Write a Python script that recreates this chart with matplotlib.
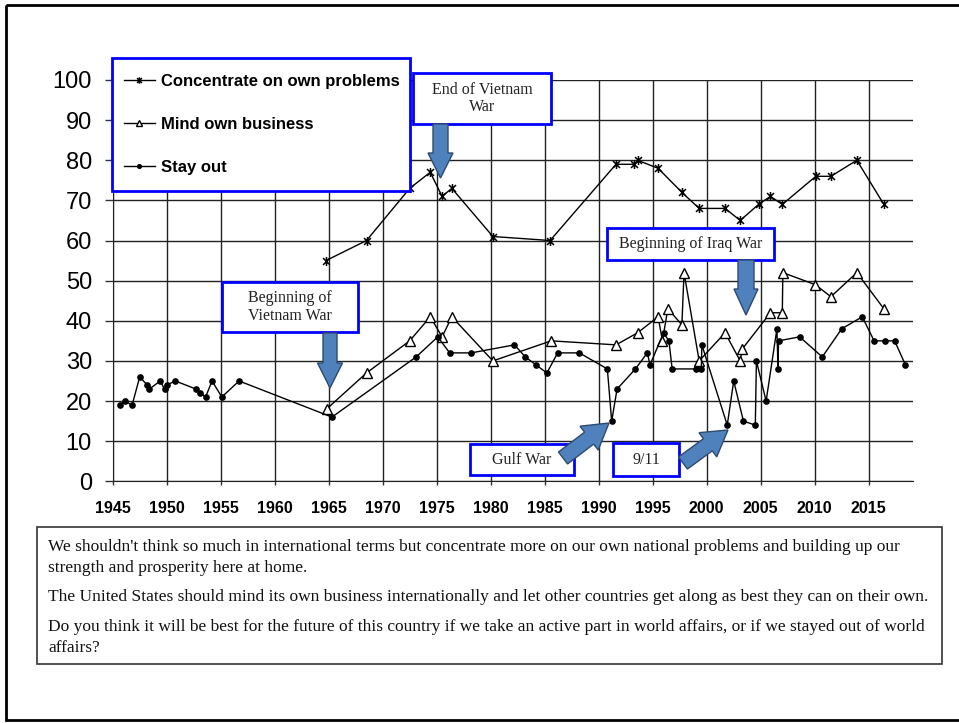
import matplotlib
matplotlib.use("Agg")
import matplotlib.pyplot as plt
import matplotlib.patches as mpatches
from matplotlib.path import Path

# ---- data ----
stay_years = [1945.7, 1946.1, 1946.8, 1947.5, 1948.2, 1948.4, 1949.4, 1949.8, 1950.0,
              1950.8, 1952.7, 1953.1, 1953.6, 1954.2, 1955.1, 1956.7, 1965.3, 1973.1,
              1975.1, 1976.2, 1978.2, 1982.2, 1983.2, 1984.2, 1985.2, 1986.2, 1988.2,
              1990.8, 1991.2, 1991.7, 1993.4, 1994.5, 1994.75, 1996.0, 1996.5, 1996.8,
              1999.0, 1999.5, 1999.55, 2001.9, 2002.5, 2003.4, 2004.5, 2004.6, 2005.5,
              2006.5, 2006.6, 2006.65, 2008.6, 2010.7, 2012.5, 2014.4, 2015.5, 2016.5,
              2017.4, 2018.4]
stay_vals = [19, 20, 19, 26, 24, 23, 25, 23, 24,
             25, 23, 22, 21, 25, 21, 25, 16, 31,
             36, 32, 32, 34, 31, 29, 27, 32, 32,
             28, 15, 23, 28, 32, 29, 37, 35, 28,
             28, 28, 34, 14, 25, 15, 14, 30, 20,
             38, 28, 35, 36, 31, 38, 41, 35, 35,
             35, 29]

mind_years = [1964.8, 1968.5, 1972.5, 1974.4, 1975.5, 1976.4, 1980.2, 1985.6, 1991.6,
              1993.6, 1995.5, 1995.9, 1996.4, 1997.7, 1997.9, 1999.3, 2001.7, 2003.1,
              2003.3, 2005.9, 2007.0, 2007.05, 2010.05, 2011.5, 2013.9, 2016.4]
mind_vals = [18, 27, 35, 41, 36, 41, 30, 35, 34,
             37, 41, 35, 43, 39, 52, 30, 37, 30,
             33, 42, 42, 52, 49, 46, 52, 43]

conc_years = [1964.75, 1968.5, 1972.5, 1974.4, 1975.5, 1976.4, 1980.2, 1985.5, 1991.6,
              1993.3, 1993.6, 1995.5, 1997.7, 1999.3, 2001.7, 2003.1, 2004.8, 2005.9,
              2007.0, 2010.1, 2011.5, 2013.9, 2016.4]
conc_vals = [55, 60, 73, 77, 71, 73, 61, 60, 79,
             79, 80, 78, 72, 68, 68, 65, 69, 71,
             69, 76, 76, 80, 69]

series_labels = ["Concentrate on own problems", "Mind own business", "Stay out"]
x_ticks = list(range(1945, 2020, 5))
y_ticks = list(range(0, 101, 10))

question_texts = [
    "We shouldn't think so much in international terms but concentrate more on our own national problems and building up our\nstrength and prosperity here at home.",
    "The United States should mind its own business internationally and let other countries get along as best they can on their own.",
    "Do you think it will be best for the future of this country if we take an active part in world affairs, or if we stayed out of world\naffairs?",
]

W, H = 959, 723
SANS = "Liberation Sans"
SERIF = "Liberation Serif"
ARROW_FACE = "#4F81BD"
ARROW_EDGE = "#2F4A6E"

# excel-like star marker: an x with a vertical bar
star = Path([(-1, -1), (1, 1), (-1, 1), (1, -1), (0, -1.3), (0, 1.3)],
            [Path.MOVETO, Path.LINETO, Path.MOVETO, Path.LINETO, Path.MOVETO, Path.LINETO])

fig = plt.figure(figsize=(W / 100, H / 100), dpi=100)
x0, x1 = 112.7, 913.0
y0, y1 = 481.3, 80.0
ax = fig.add_axes([x0 / W, 1 - y0 / H, (x1 - x0) / W, (y0 - y1) / H])

l_conc, = ax.plot(conc_years, conc_vals, color="black", lw=1, marker=star, ms=6.5,
                  mew=1.1, clip_on=False, label=series_labels[0])
l_mind, = ax.plot(mind_years, mind_vals, color="black", lw=1, marker="^", ms=7,
                  mfc="white", mec="black", mew=1, clip_on=False, label=series_labels[1])
l_stay, = ax.plot(stay_years, stay_vals, color="black", lw=1, marker="o", ms=3.8,
                  clip_on=False, label=series_labels[2])

ax.set_xlim(1945, 2019.1)
ax.set_ylim(0, 100)
ax.set_xticks(x_ticks)
ax.set_yticks(y_ticks)
ax.set_xticklabels([str(t) for t in x_ticks], fontfamily=SANS, fontweight="bold", fontsize=11.5)
ax.set_yticklabels([str(t) for t in y_ticks], fontfamily=SANS, fontsize=17)
ax.tick_params(axis="y", length=6, width=1, pad=9, color="#333")
ax.tick_params(axis="x", length=3, width=1, pad=11, color="#333")
ax.grid(True, color="#222", lw=1)
ax.set_axisbelow(True)
for s in ("top", "right"):
    ax.spines[s].set_visible(False)
for s in ("left", "bottom"):
    ax.spines[s].set_color("#222")

# overlay in pixel coordinates for legend frame, annotation boxes, arrows, caption box
ov = fig.add_axes([0, 0, 1, 1], zorder=5)
ov.set_xlim(0, W)
ov.set_ylim(H, 0)
ov.axis("off")
ov.patch.set_alpha(0)

ov.add_patch(mpatches.Rectangle((6, 5), W, 715, fill=False, ec="black", lw=2))

# legend: blue frame drawn by hand, entries from the real line handles
ov.add_patch(mpatches.Rectangle((112, 58), 298, 133, fc="white", ec="#0000FF", lw=2, zorder=1))
leg = ov.legend(handles=[l_conc, l_mind, l_stay], loc="upper left",
                bbox_to_anchor=(124 / W, 1 - 74 / H), bbox_transform=fig.transFigure,
                borderaxespad=0, borderpad=0, frameon=False, labelspacing=1.68,
                handlelength=1.85, handletextpad=0.35,
                prop={"family": SANS, "weight": "bold", "size": 12}, markerscale=0.7)


def note(x, y, w, h, text):
    ov.add_patch(mpatches.Rectangle((x, y), w, h, fc="white", ec="#0000FF", lw=2))
    ov.text(x + w / 2, y + h / 2, text, ha="center", va="center", fontfamily=SERIF,
            fontsize=11.5, color="#222", linespacing=1.15)


def block_arrow(x, y, dx, dy, width=15, head_width=25, head_length=25):
    ov.add_patch(mpatches.FancyArrow(x, y, dx, dy, width=width, head_width=head_width,
                                     head_length=head_length, length_includes_head=True,
                                     fc=ARROW_FACE, ec=ARROW_EDGE, lw=1))


note(413, 73, 138, 51, "End of Vietnam\nWar")
block_arrow(440.5, 124, 0, 54)
note(222, 282, 136, 50, "Beginning of\nVietnam War")
block_arrow(330, 333, 0, 55, width=14)
note(607, 228, 167, 32, "Beginning of Iraq War")
block_arrow(746, 260, 0, 55, width=16, head_width=24, head_length=26)
note(470, 444, 104, 31, "Gulf War")
block_arrow(563, 458, 46, -35, width=15, head_width=30, head_length=25)
note(613, 443, 66, 33, "9/11")
block_arrow(683, 463, 45, -33, width=15, head_width=30, head_length=25)

ov.add_patch(mpatches.Rectangle((37, 527), 905, 137, fill=False, ec="#333", lw=1.2))
para_tops = [539, 589, 619]
for top, txt in zip(para_tops, question_texts):
    ov.text(48, top, txt, ha="left", va="top", fontfamily=SERIF, fontsize=12.5,
            color="#111", linespacing=1.4)

fig.savefig("out.png", dpi=100)
